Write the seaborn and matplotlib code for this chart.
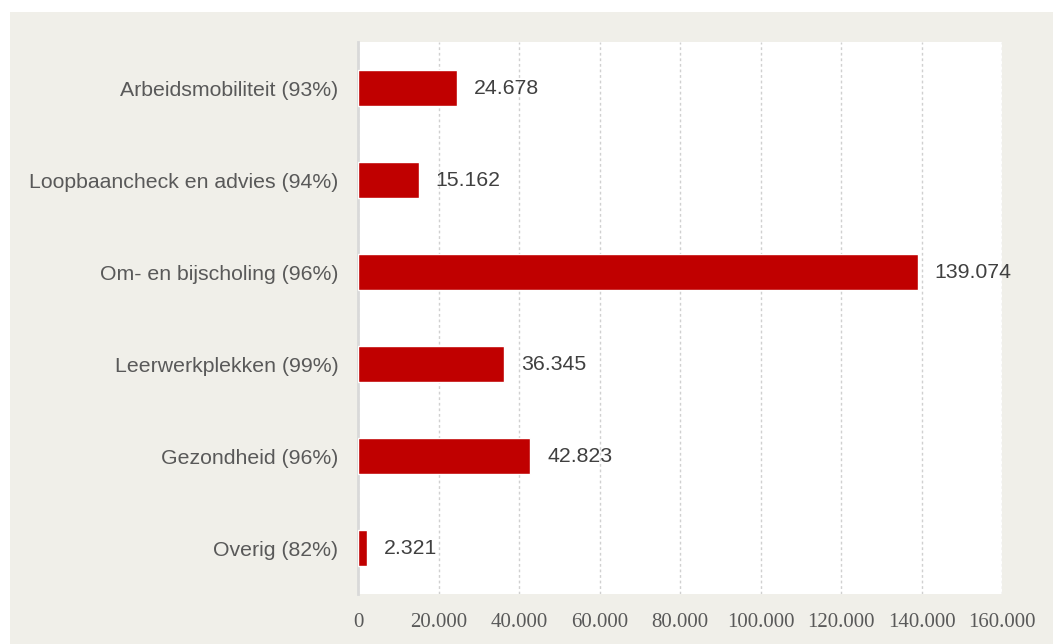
import matplotlib
matplotlib.use("Agg")
import matplotlib.pyplot as plt
import seaborn as sns
import pandas as pd
from matplotlib.patches import Rectangle

categories = ["Arbeidsmobiliteit (93%)", "Loopbaancheck en advies (94%)",
              "Om- en bijscholing (96%)", "Leerwerkplekken (99%)",
              "Gezondheid (96%)", "Overig (82%)"]
values = [24678, 15162, 139074, 36345, 42823, 2321]
xticks = [0, 20000, 40000, 60000, 80000, 100000, 120000, 140000, 160000]
xtick_labels = ["0", "20.000", "40.000", "60.000", "80.000", "100.000",
                "120.000", "140.000", "160.000"]

def fmt(v):
    return f"{v:,}".replace(",", ".")

df = pd.DataFrame({"cat": categories, "val": values})

sns.set_style("white")
plt.rcParams['font.family'] = ['Liberation Sans', 'DejaVu Sans']

W, H = 1053, 644
fig = plt.figure(figsize=(W / 100, H / 100), dpi=100)
fig.patch.set_facecolor("white")
fig.patches.append(Rectangle((10 / W, 0), 1 - 10 / W, 1 - 12 / H,
                             transform=fig.transFigure, facecolor="#F0EFE9",
                             edgecolor="none", zorder=-10))

ax = fig.add_axes([358 / W, (H - 594) / H, (1002 - 358) / W, (594 - 42) / H])
ax.set_facecolor("white")

sns.barplot(data=df, x="val", y="cat", orient="h", color="#C00000",
            saturation=1, width=0.39, ax=ax, zorder=3)

ax.set_xlim(0, 160000)
ax.set_ylim(5.5, -0.5)
ax.set_xticks(xticks)
ax.set_xticklabels(xtick_labels, fontfamily="Liberation Serif", fontsize=15,
                   color="#595959")
ax.tick_params(axis="x", length=0, pad=14)
ax.tick_params(axis="y", length=0, pad=14, labelsize=15.3, labelcolor="#595959")
ax.set_xlabel("")
ax.set_ylabel("")

ax.grid(axis="x", color="#D0D0D0", linestyle=(0, (2, 2)), linewidth=1, zorder=0)
ax.grid(axis="y", visible=False)
ax.set_axisbelow(True)
for s in ["top", "right", "bottom"]:
    ax.spines[s].set_visible(False)
ax.spines["left"].set_color("#D9D9D9")
ax.spines["left"].set_linewidth(2)

for i, v in enumerate(values):
    ax.annotate(fmt(v), xy=(v, i), xytext=(12, 0), textcoords="offset points",
                va="center", ha="left", fontsize=15.3, color="#404040")

fig.savefig("out.png", dpi=100)
